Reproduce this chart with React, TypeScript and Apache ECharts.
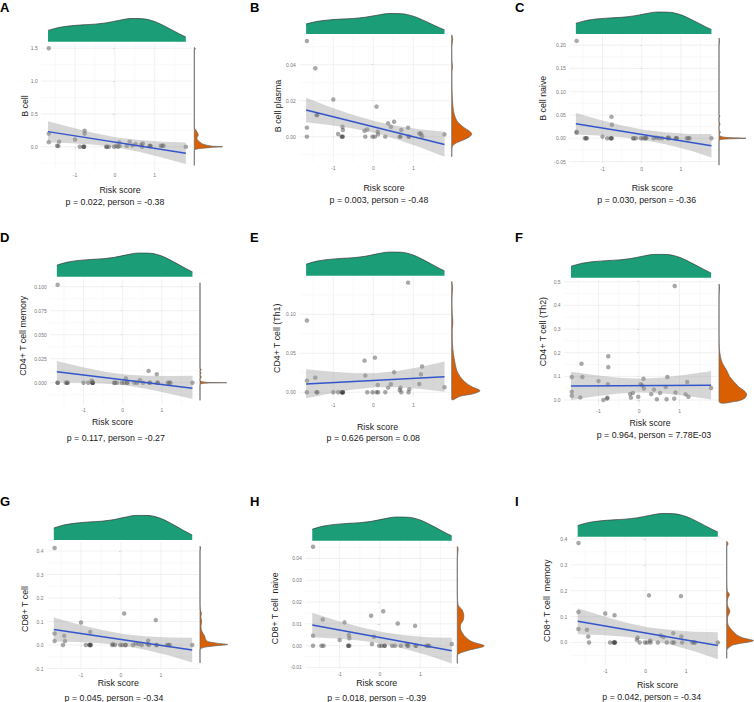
import React, { useEffect, useRef } from "react";
import * as echarts from "echarts";

// ---------- shared risk score (x) ----------
const riskScore = [-1.66, -1.66, -1.66, -1.45, -1.42, -1.4, -1.0, -0.88, -0.79, -0.78, -0.77, -0.76, -0.76, -0.22, -0.2, -0.15, -0.02, 0.04, 0.08, 0.11, 0.12, 0.3, 0.37, 0.44, 0.52, 0.66, 0.68, 0.7, 0.87, 0.88, 0.9, 1.15, 1.19, 1.22, 1.78];

// top marginal density of risk score
const riskDensX = [-1.68, -1.4, -1.1, -0.8, -0.5, -0.2, 0.1, 0.4, 0.7, 1.0, 1.3, 1.6, 1.78];
const riskDensY = [0.48, 0.61, 0.68, 0.72, 0.75, 0.81, 0.91, 0.99, 0.98, 0.86, 0.62, 0.35, 0.2];

const xTickVals = [-1, 0, 1];
const xGridVals = [-1.5, -1, -0.5, 0, 0.5, 1, 1.5];
const fitX = [-1.68, 1.78];
const bandX = [-1.68, -1.1, -0.5, 0.05, 0.6, 1.2, 1.78];

// ---------- A: B cell ----------
const bCell = [1.5, 0.2, 0.07, 0.015, 0.01, 0.077, 0.11, 0.0, 0.0, 0.0, 0.0, 0.2, 0.245, 0.0, 0.0, 0.0, 0.0, 0.015, 0.0, 0.066, 0.01, 0.015, 0.077, 0.02, 0.04, 0.03, 0.0, 0.05, 0.01, 0.015, 0.01, 0.015, 0.015, 0.015, 0.0];
const fitBCell = [0.23, -0.1];
const bandHiBCell = [0.39, 0.296, 0.207, 0.142, 0.102, 0.076, 0.065];
const bandLoBCell = [0.07, 0.054, 0.029, -0.012, -0.077, -0.166, -0.265];
const margYBCell = [-0.28, -0.06, -0.04, -0.025, -0.01, 0.0, 0.01, 0.04, 0.077, 0.1, 0.128, 0.16, 0.18, 0.22, 0.26, 0.29, 0.6, 1.0, 1.47, 1.49, 1.51];
const margVBCell = [0, 0, 0.05, 0.25, 0.6, 1.0, 0.6, 0.3, 0.18, 0.12, 0.09, 0.12, 0.14, 0.1, 0.05, 0, 0, 0, 0, 0.04, 0];
const yTicksBCell = [0, 0.5, 1.0, 1.5];

// ---------- B: B cell plasma ----------
const bCellPlasma = [0.0532, 0.005, 0.0, 0.038, 0.012, 0.012, 0.0207, 0.0015, 0.0, 0.0, 0.0055, 0.0037, 0.0, 0.0033, 0.0, 0.004, 0.0, 0.0, 0.0167, 0.0028, 0.0013, 0.0, 0.0074, 0.0055, 0.0083, 0.0, 0.0, 0.0037, 0.005, 0.0, 0.0, 0.0018, 0.0018, 0.0004, 0.0013];
const fitBCellPlasma = [0.0148, -0.0043];
const bandHiBCellPlasma = [0.0216, 0.0167, 0.0121, 0.0086, 0.006, 0.004, 0.0028];
const bandLoBCellPlasma = [0.008, 0.0065, 0.0045, 0.002, -0.0016, -0.0062, -0.0111];
const margYBCellPlasma = [-0.011, -0.006, -0.004, -0.002, 0.0, 0.0015, 0.003, 0.005, 0.007, 0.009, 0.012, 0.016, 0.02, 0.025, 0.03, 0.036, 0.039, 0.042, 0.05, 0.054, 0.0565];
const margVBCellPlasma = [0, 0.02, 0.15, 0.55, 0.9, 1.0, 0.9, 0.62, 0.4, 0.25, 0.14, 0.07, 0.04, 0.02, 0.01, 0.01, 0.04, 0.01, 0.0, 0.05, 0];
const yTicksBCellPlasma = [0, 0.02, 0.04];

// ---------- C: B cell naive ----------
const bCellNaive = [0.209, 0.014, 0.012, 0.0, 0.0, 0.0, 0.0036, 0.0, 0.0, 0.0, 0.046, 0.029, 0.0, 0.0, 0.0, 0.0, 0.0, 0.0, 0.0, 0.0, 0.0014, 0.0, 0.0014, 0.0, 0.0, 0.0, 0.002, 0.0, 0.0, 0.0, 0.0, 0.0, 0.0, 0.0, 0.0];
const fitBCellNaive = [0.031, -0.016];
const bandHiBCellNaive = [0.054, 0.0404, 0.0277, 0.0185, 0.0127, 0.0092, 0.009];
const bandLoBCellNaive = [0.008, 0.0058, 0.0023, -0.0035, -0.0127, -0.0254, -0.041];
const margYBCellNaive = [-0.057, -0.005, -0.002, 0.0, 0.002, 0.005, 0.01, 0.013, 0.016, 0.025, 0.03, 0.035, 0.045, 0.047, 0.05, 0.1, 0.2, 0.209, 0.215];
const margVBCellNaive = [0, 0, 0.15, 1.0, 0.25, 0.03, 0.01, 0.06, 0.01, 0.0, 0.04, 0.0, 0.0, 0.04, 0.0, 0, 0, 0.02, 0];
const yTicksBCellNaive = [-0.05, 0, 0.05, 0.1, 0.15, 0.2];

// ---------- D: CD4+ T cell memory ----------
const cd4Memory = [0.102, 0.0, 0.0, 0.0, 0.0, 0.0, 0.0, 0.0, 0.002, 0.0, 0.0, 0.0, 0.0, 0.0, 0.0, 0.0, 0.0, 0.0, 0.0045, 0.0, 0.0, 0.0, 0.0, 0.0027, 0.0, 0.0123, 0.0, 0.0, 0.0089, 0.0, 0.0, 0.0, 0.0, 0.0, 0.0];
const fitCd4Memory = [0.0113, -0.0058];
const bandHiCd4Memory = [0.0225, 0.0169, 0.0117, 0.0085, 0.0072, 0.007, 0.0072];
const bandLoCd4Memory = [0.0001, -0.0001, -0.0007, -0.0026, -0.0062, -0.0114, -0.017];
const margYCd4Memory = [-0.018, -0.002, -0.0005, 0.0, 0.0005, 0.002, 0.004, 0.006, 0.008, 0.0103, 0.012, 0.0137, 0.015, 0.1, 0.104];
const margVCd4Memory = [0, 0, 0.2, 1.0, 0.2, 0.0, 0.0, 0.05, 0.0, 0.04, 0.0, 0.05, 0.0, 0.0, 0];
const yTicksCd4Memory = [0, 0.025, 0.05, 0.075, 0.1];

// ---------- E: CD4+ T cell (Th1) ----------
const cd4Th1 = [0.092, 0.015, 0.0, 0.0188, 0.0, 0.0, 0.0, 0.0, 0.0, 0.0, 0.0, 0.0, 0.0, 0.0406, 0.0214, 0.0, 0.0, 0.0444, 0.0, 0.0094, 0.0, 0.0, 0.006, 0.0103, 0.0256, 0.003, 0.006, 0.0, 0.1406, 0.0, 0.004, 0.0107, 0.023, 0.033, 0.0064];
const fitCd4Th1 = [0.0107, 0.02];
const bandHiCd4Th1 = [0.0295, 0.0265, 0.0243, 0.0244, 0.0272, 0.0326, 0.0395];
const bandLoCd4Th1 = [-0.0075, -0.0019, 0.0035, 0.0064, 0.0064, 0.0042, 0.0008];
const margYCd4Th1 = [-0.009, -0.005, -0.002, 0.002, 0.007, 0.013, 0.02, 0.028, 0.037, 0.05, 0.06, 0.07, 0.08, 0.09, 0.1, 0.12, 0.135, 0.142];
const margVCd4Th1 = [0, 0.3, 0.75, 1.0, 0.72, 0.47, 0.3, 0.18, 0.12, 0.06, 0.03, 0.02, 0.02, 0.04, 0.02, 0.01, 0.03, 0];
const yTicksCd4Th1 = [0, 0.05, 0.1];

// ---------- F: CD4+ T cell (Th2) ----------
const cd4Th2 = [0.097, 0.035, 0.018, 0.011, 0.153, 0.097, 0.08, 0.0, 0.006, 0.01, 0.067, 0.139, 0.185, 0.025, 0.01, 0.03, 0.014, 0.067, 0.062, 0.09, 0.049, 0.025, 0.044, 0.003, 0.03, 0.055, 0.003, 0.097, 0.006, 0.482, 0.032, 0.024, 0.076, 0.014, 0.051];
const fitCd4Th2 = [0.0597, 0.0625];
const bandHiCd4Th2 = [0.1197, 0.1057, 0.0942, 0.0901, 0.095, 0.1075, 0.1225];
const bandLoCd4Th2 = [-0.0003, 0.0147, 0.0272, 0.0321, 0.028, 0.0165, 0.0025];
const margYCd4Th2 = [-0.006, 0.0, 0.01, 0.025, 0.04, 0.055, 0.07, 0.085, 0.1, 0.125, 0.15, 0.17, 0.2, 0.22, 0.3, 0.4, 0.45, 0.48, 0.49];
const margVCd4Th2 = [0.6, 0.8, 0.95, 1.0, 0.9, 0.72, 0.6, 0.48, 0.38, 0.28, 0.15, 0.08, 0.03, 0.01, 0.0, 0.0, 0.005, 0.02, 0];
const yTicksCd4Th2 = [0, 0.1, 0.2, 0.3, 0.4, 0.5];

// ---------- G: CD8+ T cell ----------
const cd8 = [0.413, 0.049, 0.017, 0.0, 0.039, 0.017, 0.096, 0.0, 0.0, 0.0, 0.056, 0.0, 0.0, 0.0, 0.004, 0.0, 0.0, 0.0, 0.134, 0.0, 0.0, 0.0, 0.007, 0.004, 0.0, 0.004, 0.018, 0.0, 0.106, 0.0, 0.0, 0.0, 0.0, 0.0, 0.0];
const fitCd8 = [0.066, -0.021];
const bandHiCd8 = [0.117, 0.0899, 0.0646, 0.047, 0.037, 0.0321, 0.031];
const bandLoCd8 = [0.015, 0.0129, 0.008, -0.002, -0.0196, -0.0449, -0.074];
const margYCd8 = [-0.075, -0.02, -0.01, -0.003, 0.002, 0.008, 0.015, 0.025, 0.04, 0.055, 0.07, 0.085, 0.1, 0.12, 0.135, 0.15, 0.2, 0.4, 0.413, 0.42];
const margVCd8 = [0, 0, 0.15, 0.6, 1.0, 0.6, 0.28, 0.2, 0.16, 0.08, 0.04, 0.04, 0.06, 0.03, 0.05, 0.01, 0, 0, 0.02, 0];
const yTicksCd8 = [-0.1, 0, 0.1, 0.2, 0.3, 0.4];

// ---------- H: CD8+ T cell naive ----------
const cd8Naive = [0.0454, 0.0046, 0.0, 0.0, 0.012, 0.0, 0.0026, 0.0107, 0.0, 0.0, 0.0049, 0.0034, 0.0, 0.0137, 0.0008, 0.0041, 0.0, 0.0, 0.0158, 0.0, 0.0, 0.0, 0.0, 0.0102, 0.0, 0.0008, 0.0, 0.0, 0.0091, 0.0, 0.0, 0.0, 0.0, 0.0, 0.0008];
const fitCd8Naive = [0.0095, -0.0023];
const bandHiCd8Naive = [0.0151, 0.0117, 0.0086, 0.0063, 0.0048, 0.0039, 0.0036];
const bandLoCd8Naive = [0.0039, 0.0033, 0.0024, 0.0009, -0.0014, -0.0045, -0.0082];
const margYCd8Naive = [-0.008, -0.0043, -0.0033, -0.002, -0.0001, 0.0018, 0.004, 0.0072, 0.0095, 0.0118, 0.0141, 0.0164, 0.0187, 0.025, 0.04, 0.0445, 0.0454];
const margVCd8Naive = [0, 0, 0.12, 0.45, 1.0, 0.55, 0.3, 0.13, 0.12, 0.22, 0.24, 0.18, 0.03, 0, 0, 0.03, 0];
const yTicksCd8Naive = [-0.01, 0, 0.01, 0.02, 0.03, 0.04];

// ---------- I: CD8+ T cell memory ----------
const cd8Memory = [0.384, 0.118, 0.052, 0.049, 0.023, 0.0, 0.112, 0.0, 0.0, 0.0, 0.105, 0.0, 0.0, 0.01, 0.019, 0.0, 0.0, 0.0, 0.182, 0.008, 0.0, 0.0, 0.027, 0.021, 0.0, 0.0, 0.036, 0.0, 0.179, 0.023, 0.0, 0.0, 0.0, 0.0, 0.0];
const fitCd8Memory = [0.082, -0.012];
const bandHiCd8Memory = [0.132, 0.1039, 0.0776, 0.059, 0.0478, 0.0415, 0.04];
const bandLoCd8Memory = [0.032, 0.0285, 0.0222, 0.011, -0.0076, -0.0339, -0.065];
const margYCd8Memory = [-0.06, -0.03, -0.022, -0.009, 0.0066, 0.018, 0.03, 0.049, 0.069, 0.085, 0.1, 0.12, 0.14, 0.155, 0.17, 0.186, 0.2, 0.25, 0.37, 0.38, 0.39];
const margVCd8Memory = [0, 0, 0.05, 0.25, 1.0, 0.6, 0.37, 0.18, 0.05, 0.03, 0.04, 0.12, 0.04, 0.02, 0.04, 0.1, 0.02, 0, 0, 0.05, 0];
const yTicksCd8Memory = [0, 0.1, 0.2, 0.3, 0.4];

// ---------- panel table (text + layout) ----------
const panels = [
  { letter: "A", yName: "B cell", values: bCell, fit: fitBCell, hi: bandHiBCell, lo: bandLoBCell, margY: margYBCell, margV: margVBCell, yTicks: yTicksBCell, dec: 1, yMin: -0.353, yMax: 1.588, stat: "p = 0.022, person = -0.38",
    main: [41.2, 42.5, 151.4, 127.4], topD: [18.3, 23.4], right: [194.3, 28.4], letterAt: [0, 1], yNameAt: [25, 106], xNameAt: [120, 190], statAt: [115, 202] },
  { letter: "B", yName: "B cell plasma", values: bCellPlasma, fit: fitBCellPlasma, hi: bandHiBCellPlasma, lo: bandLoBCellPlasma, margY: margYBCellPlasma, margV: margVBCellPlasma, yTicks: yTicksBCellPlasma, dec: 2, yMin: -0.0143, yMax: 0.0564, stat: "p = 0.003, person = -0.48",
    main: [299.3, 35.2, 152, 127.2], topD: [13.3, 20.7], right: [451.7, 20], letterAt: [250, 1], yNameAt: [278, 106], xNameAt: [384, 188.3], statAt: [379, 200] },
  { letter: "C", yName: "B cell naive", values: bCellNaive, fit: fitBCellNaive, hi: bandHiBCellNaive, lo: bandLoBCellNaive, margY: margYBCellNaive, margV: margVBCellNaive, yTicks: yTicksBCellNaive, dec: 2, yMin: -0.0535, yMax: 0.2215, stat: "p = 0.030, person = -0.36",
    main: [569.2, 35.1, 148.9, 128.1], topD: [11.7, 22.3], right: [719, 27], letterAt: [515, 1], yNameAt: [543.3, 98.3], xNameAt: [652.3, 188.3], statAt: [646.7, 200] },
  { letter: "D", yName: "CD4+ T cell memory", values: cd4Memory, fit: fitCd4Memory, hi: bandHiCd4Memory, lo: bandLoCd4Memory, margY: margYCd4Memory, margV: margVCd4Memory, yTicks: yTicksCd4Memory, dec: 3, yMin: -0.023, yMax: 0.108, stat: "p = 0.117, person = -0.27",
    main: [50.2, 279, 148.9, 125.8], topD: [252.7, 24], right: [200, 26.7], letterAt: [0, 231], yNameAt: [23.3, 335.8], xNameAt: [112.5, 421.7], statAt: [115.8, 438.3] },
  { letter: "E", yName: "CD4+ T cell (Th1)", values: cd4Th1, fit: fitCd4Th1, hi: bandHiCd4Th1, lo: bandLoCd4Th1, margY: margYCd4Th1, margV: margVCd4Th1, yTicks: yTicksCd4Th1, dec: 2, yMin: -0.009, yMax: 0.148, stat: "p = 0.626 person = 0.08",
    main: [299.3, 276.9, 152, 122.4], topD: [251.7, 24], right: [451.7, 28.3], letterAt: [250, 231], yNameAt: [276.7, 338.3], xNameAt: [377.5, 426.7], statAt: [373.3, 438.3] },
  { letter: "F", yName: "CD4+ T cell (Th2)", values: cd4Th2, fit: fitCd4Th2, hi: bandHiCd4Th2, lo: bandLoCd4Th2, margY: margYCd4Th2, margV: margVCd4Th2, yTicks: yTicksCd4Th2, dec: 1, yMin: -0.024, yMax: 0.506, stat: "p = 0.964, person = 7.78E-03",
    main: [564.1, 280.3, 153.9, 125.4], topD: [254, 23.7], right: [719, 27.7], letterAt: [515, 231], yNameAt: [543.3, 331.7], xNameAt: [650, 423.3], statAt: [654, 435] },
  { letter: "G", yName: "CD8+ T cell", values: cd8, fit: fitCd8, hi: bandHiCd8, lo: bandLoCd8, margY: margYCd8, margV: margVCd8, yTicks: yTicksCd8, dec: 1, yMin: -0.105, yMax: 0.437, stat: "p = 0.045, person = -0.34",
    main: [47, 542.3, 152, 127.4], topD: [515, 25], right: [200, 27.7], letterAt: [0, 494.5], yNameAt: [25, 609], xNameAt: [118.3, 683.3], statAt: [114, 697.5] },
  { letter: "H", yName: "CD8+ T cell  naive", values: cd8Naive, fit: fitCd8Naive, hi: bandHiCd8Naive, lo: bandLoCd8Naive, margY: margYCd8Naive, margV: margVCd8Naive, yTicks: yTicksCd8Naive, dec: 2, yMin: -0.0106, yMax: 0.0481, stat: "p = 0.018, person = -0.39",
    main: [305.4, 540.8, 153.2, 128], topD: [516.7, 24], right: [457.3, 27], letterAt: [250, 494.5], yNameAt: [275, 608.3], xNameAt: [376.7, 683.3], statAt: [376.7, 697.5] },
  { letter: "I", yName: "CD8+ T cell  memory", values: cd8Memory, fit: fitCd8Memory, hi: bandHiCd8Memory, lo: bandLoCd8Memory, margY: margYCd8Memory, margV: margVCd8Memory, yTicks: yTicksCd8Memory, dec: 1, yMin: -0.0896, yMax: 0.4066, stat: "p = 0.042, person = -0.34",
    main: [570.8, 537.2, 153.9, 128.5], topD: [513.3, 23.4], right: [726.7, 26.7], letterAt: [515, 494.5], yNameAt: [546.7, 600.7], xNameAt: [657.5, 685], statAt: [651.7, 696.7] },
];

const FONT = '"Liberation Sans", Arial, Helvetica, sans-serif';
const X_MIN = -1.85;
const X_MAX = 1.95;
const GREEN = "#1B9E77";
const ORANGE = "#D95F02";
const POINT = "rgba(60,60,60,0.55)";
const FIT = "#3355CC";
const BAND = "rgba(153,153,153,0.4)";
const GRID_MAJOR = "#EBEBEB";
const GRID_MINOR = "#F3F3F3";

function minorTicks(ticks: number[], lo: number, hi: number): number[] {
  const step = ticks[1] - ticks[0];
  const out: number[] = [];
  out.push(ticks[0] - step / 2);
  ticks.forEach((t) => out.push(t + step / 2));
  return out.filter((v) => v > lo && v < hi);
}

function buildOption() {
  const grid: any[] = [];
  const xAxis: any[] = [];
  const yAxis: any[] = [];
  const series: any[] = [];
  const graphic: any[] = [];

  panels.forEach((p) => {
    const g0 = grid.length;
    const [ml, mt, mw, mh] = p.main;
    grid.push({ left: ml, top: mt, width: mw, height: mh, containLabel: false, outerBoundsMode: "none" });
    grid.push({ left: ml, top: p.topD[0], width: mw, height: p.topD[1], containLabel: false, outerBoundsMode: "none" });
    grid.push({ left: p.right[0], top: mt, width: p.right[1], height: mh, containLabel: false, outerBoundsMode: "none" });

    // main axes
    xAxis.push({
      gridIndex: g0, type: "value", min: X_MIN, max: X_MAX,
      axisLine: { show: false }, splitLine: { show: false },
      axisTick: { show: true, length: 2, customValues: xTickVals, lineStyle: { color: "#999", width: 0.5 } },
      axisLabel: { show: true, customValues: xTickVals, fontSize: 5, color: "#777", margin: 3, fontFamily: FONT, formatter: (v: number) => String(v) },
    });
    yAxis.push({
      gridIndex: g0, type: "value", min: p.yMin, max: p.yMax,
      axisLine: { show: false }, splitLine: { show: false },
      axisTick: { show: true, length: 2, customValues: p.yTicks, lineStyle: { color: "#999", width: 0.5 } },
      axisLabel: { show: true, customValues: p.yTicks, fontSize: 5, color: "#777", margin: 3.5, fontFamily: FONT, formatter: (v: number) => v.toFixed(p.dec) },
    });
    // top density axes
    xAxis.push({ gridIndex: g0 + 1, type: "value", min: X_MIN, max: X_MAX, show: false });
    yAxis.push({ gridIndex: g0 + 1, type: "value", min: 0, max: 1, show: false });
    // right density axes
    xAxis.push({ gridIndex: g0 + 2, type: "value", min: 0, max: 1, show: false });
    yAxis.push({ gridIndex: g0 + 2, type: "value", min: p.yMin, max: p.yMax, show: false });

    const yMinor = minorTicks(p.yTicks, p.yMin, p.yMax);

    // grid lines
    series.push({
      type: "custom", xAxisIndex: g0, yAxisIndex: g0, z: 1, silent: true, data: [[0, 0]],
      renderItem: (params: any, api: any) => {
        const cs = params.coordSys;
        const children: any[] = [];
        xGridVals.forEach((v) => {
          const px = api.coord([v, 0])[0];
          const major = xTickVals.indexOf(v) >= 0;
          children.push({ type: "line", shape: { x1: px, y1: cs.y, x2: px, y2: cs.y + cs.height }, style: { stroke: major ? GRID_MAJOR : GRID_MINOR, lineWidth: major ? 0.7 : 0.5 } });
        });
        yMinor.forEach((v) => {
          const py = api.coord([0, v])[1];
          children.push({ type: "line", shape: { x1: cs.x, y1: py, x2: cs.x + cs.width, y2: py }, style: { stroke: GRID_MINOR, lineWidth: 0.5 } });
        });
        p.yTicks.forEach((v) => {
          const py = api.coord([0, v])[1];
          children.push({ type: "line", shape: { x1: cs.x, y1: py, x2: cs.x + cs.width, y2: py }, style: { stroke: GRID_MAJOR, lineWidth: 0.7 } });
        });
        return { type: "group", children };
      },
    });

    // scatter points
    series.push({
      type: "scatter", xAxisIndex: g0, yAxisIndex: g0, z: 2, silent: true,
      symbolSize: 4.5, itemStyle: { color: POINT, borderWidth: 0 },
      data: riskScore.map((x, i) => [x, p.values[i]]),
    });

    // confidence band (polygon through the read upper / lower bounds)
    series.push({
      type: "custom", xAxisIndex: g0, yAxisIndex: g0, z: 3, silent: true, data: [[0, 0]],
      renderItem: (params: any, api: any) => {
        const pts: number[][] = [];
        bandX.forEach((x, i) => pts.push(api.coord([x, p.hi[i]])));
        for (let i = bandX.length - 1; i >= 0; i--) pts.push(api.coord([bandX[i], p.lo[i]]));
        return { type: "polygon", shape: { points: pts }, style: { fill: BAND, stroke: "none" } };
      },
    });

    // fitted line
    series.push({
      type: "line", xAxisIndex: g0, yAxisIndex: g0, z: 4, silent: true,
      symbol: "none", showSymbol: false, lineStyle: { color: FIT, width: 1.5 },
      data: fitX.map((x, i) => [x, p.fit[i]]),
    });

    // top density
    series.push({
      type: "line", xAxisIndex: g0 + 1, yAxisIndex: g0 + 1, z: 2, silent: true,
      smooth: 0.3, symbol: "none", showSymbol: false,
      lineStyle: { color: "#333", width: 0.7 },
      areaStyle: { color: GREEN, opacity: 1 },
      data: riskDensX.map((x, i) => [x, riskDensY[i]]),
    });

    // right density
    series.push({
      type: "custom", xAxisIndex: g0 + 2, yAxisIndex: g0 + 2, z: 2, silent: true, data: [[0, 0]],
      renderItem: (params: any, api: any) => {
        const cs = params.coordSys;
        const ys = p.margY;
        const vs = p.margV;
        const n = ys.length;
        const pts: number[][] = [];
        if (vs[0] !== 0) pts.push(api.coord([0, ys[0]]));
        ys.forEach((y, i) => pts.push(api.coord([vs[i], y])));
        if (vs[n - 1] !== 0) pts.push(api.coord([0, ys[n - 1]]));
        pts.push(api.coord([0, (ys[0] + ys[n - 1]) / 2]));
        return {
          type: "polygon",
          shape: { points: pts, smooth: 0.3, smoothConstraint: [[cs.x, cs.y - 10], [cs.x + cs.width + 10, cs.y + cs.height + 10]] },
          style: { fill: ORANGE, stroke: "#666", lineWidth: 0.7 },
        };
      },
    });

    // texts
    graphic.push({ type: "text", x: p.letterAt[0], y: p.letterAt[1], silent: true,
      style: { text: p.letter, fontSize: 13, fontWeight: "bold", fontFamily: FONT, fill: "#000", align: "left", verticalAlign: "top" } });
    graphic.push({ type: "text", x: p.yNameAt[0], y: p.yNameAt[1], rotation: Math.PI / 2, silent: true,
      style: { text: p.yName, fontSize: 8.8, fontFamily: FONT, fill: "#1a1a1a", align: "center", verticalAlign: "middle" } });
    graphic.push({ type: "text", x: p.xNameAt[0], y: p.xNameAt[1], silent: true,
      style: { text: "Risk score", fontSize: 8.8, fontFamily: FONT, fill: "#1a1a1a", align: "center", verticalAlign: "middle" } });
    graphic.push({ type: "text", x: p.statAt[0], y: p.statAt[1], silent: true,
      style: { text: p.stat, fontSize: 8.8, fontFamily: FONT, fill: "#1a1a1a", align: "center", verticalAlign: "middle" } });
  });

  return {
    animation: false,
    backgroundColor: "#ffffff",
    textStyle: { fontFamily: FONT },
    grid, xAxis, yAxis, series, graphic,
  };
}

export default function App() {
  const ref = useRef<HTMLDivElement>(null);
  useEffect(() => {
    if (!ref.current) return;
    const chart = echarts.init(ref.current, null, { renderer: "svg" });
    chart.setOption(buildOption() as any);
    return () => chart.dispose();
  }, []);
  return (
    <div
      ref={ref}
      style={{ position: "fixed", left: 0, top: 0, width: 754, height: 702, background: "#fff" }}
    />
  );
}
